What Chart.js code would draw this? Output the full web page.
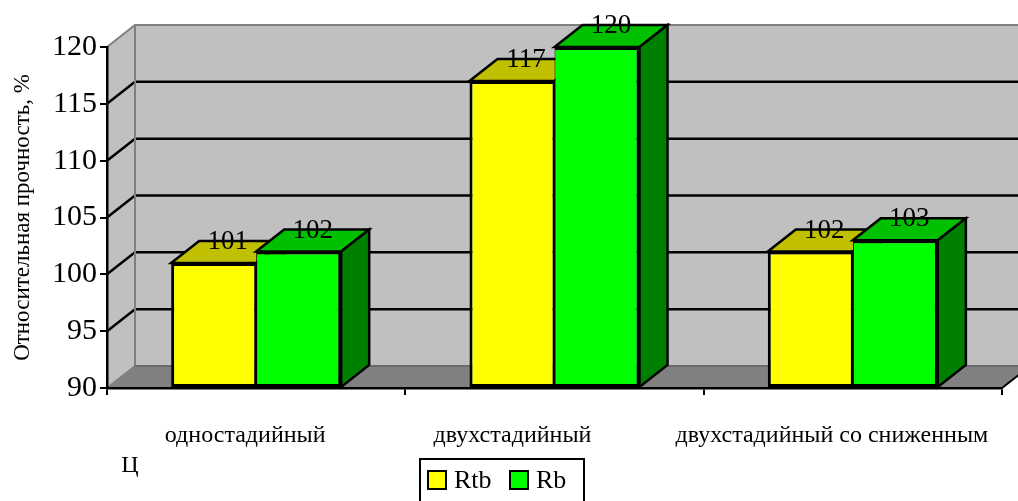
<!DOCTYPE html>
<html>
<head>
<meta charset="utf-8">
<script src="https://cdn.jsdelivr.net/npm/chart.js@4.4.1/dist/chart.umd.min.js"></script>
<style>
  html, body { margin: 0; padding: 0; background: #fff; }
</style>
</head>
<body>
<canvas id="grafico" width="1018" height="501"></canvas>
<script>
// datos del grafico
const categorias = ['одностадийный', 'двухстадийный', 'двухстадийный со сниженным'];
const rtb = [101, 117, 102];
const rb = [102, 120, 103];
const yTicks = [90, 95, 100, 105, 110, 115, 120];
const nombres = ['Rtb', 'Rb'];

const FUENTE = "'Liberation Serif', 'Times New Roman', serif";
const DX = 28, DY = -22;            // profundidad 3D
const colores = [
   {frente: '#ffff00', arriba: '#c0c000', lado: '#808000'},
   {frente: '#00ff00', arriba: '#00c000', lado: '#008000'}
];
// bordes de los frentes: el borde compartido no se duplica
const bordes = [
   {top: 3, left: 3, bottom: 3, right: 2},
   {top: 3, left: 1, bottom: 3, right: 3}
];

/*------------------------ plugin para la caja 3D --------------------------*/
const caja3d = {
   id: 'caja3d',
   beforeDraw(chart){
      const ctx = chart.ctx;
      const {left: L, right: R, top: T, bottom: B} = chart.chartArea;
      const y = chart.scales.y;
      ctx.save();
      ctx.fillStyle = '#fff';
      ctx.fillRect(0, 0, chart.width, chart.height);

      // pared lateral
      ctx.fillStyle = '#c0c0c0';
      ctx.beginPath();
      ctx.moveTo(L, B); ctx.lineTo(L, T); ctx.lineTo(L + DX, T + DY); ctx.lineTo(L + DX, B + DY);
      ctx.closePath(); ctx.fill();
      // pared del fondo
      ctx.fillRect(L + DX, T + DY, R - L, B - T);
      // piso
      ctx.fillStyle = '#808080';
      ctx.beginPath();
      ctx.moveTo(L, B); ctx.lineTo(R, B); ctx.lineTo(R + DX, B + DY); ctx.lineTo(L + DX, B + DY);
      ctx.closePath(); ctx.fill();

      // lineas de la grilla
      ctx.strokeStyle = '#000';
      ctx.lineWidth = 2.5;
      yTicks.slice(1, -1).forEach(v => {
         const py = y.getPixelForValue(v);
         ctx.beginPath();
         ctx.moveTo(L, py); ctx.lineTo(L + DX, py + DY); ctx.lineTo(R + DX, py + DY);
         ctx.stroke();
      });

      // bordes grises
      ctx.lineWidth = 2;
      ctx.strokeStyle = '#808080';
      ctx.beginPath();
      ctx.moveTo(L, T); ctx.lineTo(L + DX, T + DY); ctx.lineTo(R + DX, T + DY);
      ctx.moveTo(L + DX, T + DY); ctx.lineTo(L + DX, B + DY);
      ctx.moveTo(L, B); ctx.lineTo(L + DX, B + DY);
      ctx.stroke();
      ctx.strokeStyle = '#6a6a6a';
      ctx.beginPath();
      ctx.moveTo(L + DX, B + DY); ctx.lineTo(R + DX, B + DY);
      ctx.stroke();
      ctx.strokeStyle = '#000';
      ctx.beginPath();
      ctx.moveTo(R, B); ctx.lineTo(R + DX, B + DY);
      ctx.stroke();
      ctx.restore();
   },
   // caras de arriba y laterales, todas antes de los frentes
   beforeDatasetsDraw(chart){
      const ctx = chart.ctx;
      ctx.save();
      ctx.strokeStyle = '#000';
      ctx.lineWidth = 2.5;
      chart.data.datasets.forEach((ds, i) => {
         const c = colores[i];
         chart.getDatasetMeta(i).data.forEach(bar => {
            const {x, y, base, width} = bar.getProps(['x', 'y', 'base', 'width'], true);
            const l = x - width / 2, r = x + width / 2;
            ctx.fillStyle = c.arriba;
            ctx.beginPath();
            ctx.moveTo(l, y); ctx.lineTo(l + DX, y + DY); ctx.lineTo(r + DX, y + DY); ctx.lineTo(r, y);
            ctx.closePath(); ctx.fill(); ctx.stroke();
            ctx.fillStyle = c.lado;
            ctx.beginPath();
            ctx.moveTo(r, y); ctx.lineTo(r + DX, y + DY); ctx.lineTo(r + DX, base + DY); ctx.lineTo(r, base);
            ctx.closePath(); ctx.fill(); ctx.stroke();
         });
      });
      ctx.restore();
   },
   afterDatasetsDraw(chart){
      const ctx = chart.ctx;
      ctx.save();
      ctx.fillStyle = '#000';
      ctx.font = '27px ' + FUENTE;
      ctx.textAlign = 'center';
      ctx.textBaseline = 'middle';
      chart.data.datasets.forEach((ds, i) => {
         chart.getDatasetMeta(i).data.forEach((bar, j) => {
            ctx.fillText(String(ds.data[j]), bar.x + DX / 2, bar.y + DY + 1);
         });
      });
      ctx.restore();
   },
   afterDraw(chart){
      const ctx = chart.ctx;
      const x = chart.scales.x;
      const desvio = [-11, -42, -21];
      ctx.save();
      ctx.fillStyle = '#000';
      ctx.font = '24px ' + FUENTE;
      ctx.textAlign = 'center';
      ctx.textBaseline = 'middle';
      categorias.forEach((cat, i) => {
         ctx.fillText(cat, x.getPixelForValue(i) + desvio[i], 436);
      });
      ctx.fillText('Ц', 130, 466);

      // leyenda con borde
      ctx.strokeStyle = '#000';
      ctx.lineWidth = 2;
      ctx.strokeRect(420, 459, 164, 60);
      ctx.font = '26px ' + FUENTE;
      ctx.textAlign = 'left';
      const px = [428, 510];
      chart.data.datasets.forEach((ds, i) => {
         ctx.fillStyle = ds.backgroundColor;
         ctx.fillRect(px[i], 471, 18, 18);
         ctx.strokeRect(px[i], 471, 18, 18);
         ctx.fillStyle = '#000';
         ctx.fillText(ds.label, px[i] + 26, 481);
      });
      ctx.restore();
   }
};

const chart = new Chart(document.getElementById('grafico').getContext('2d'), {
   type: 'bar',
   data: {
      labels: categorias,
      datasets: [rtb, rb].map((d, i) => ({
         label: nombres[i],
         data: d,
         base: yTicks[0],
         backgroundColor: colores[i].frente,
         borderColor: '#000',
         borderWidth: bordes[i],
         borderSkipped: false,
         clip: false
      }))
   },
   options: {
      responsive: false,
      animation: false,
      devicePixelRatio: 1,
      categoryPercentage: 0.57,
      barPercentage: 1,
      layout: {padding: {top: 47, right: 16, left: 0, bottom: 0}},
      plugins: {legend: {display: false}, tooltip: {enabled: false}},
      scales: {
         x: {
            afterFit: s => { s.height = 113; },
            ticks: {display: false},
            grid: {drawOnChartArea: false, color: '#000', lineWidth: 2, tickLength: 7, offset: true},
            border: {color: '#000', width: 2.5}
         },
         y: {
            min: 90,
            max: 120,
            afterFit: s => { s.width = 107; },
            afterBuildTicks: s => { s.ticks = yTicks.map(v => ({value: v})); },
            ticks: {font: {family: FUENTE, size: 30}, color: '#000', padding: 3},
            grid: {drawOnChartArea: false, color: '#000', lineWidth: 2, tickLength: 7},
            border: {color: '#000', width: 2.5},
            title: {
               display: true,
               text: 'Относительная прочность, %',
               font: {family: FUENTE, size: 23},
               color: '#000',
               padding: {top: 9, bottom: 0}
            }
         }
      }
   },
   plugins: [caja3d]
});
</script>
</body>
</html>
